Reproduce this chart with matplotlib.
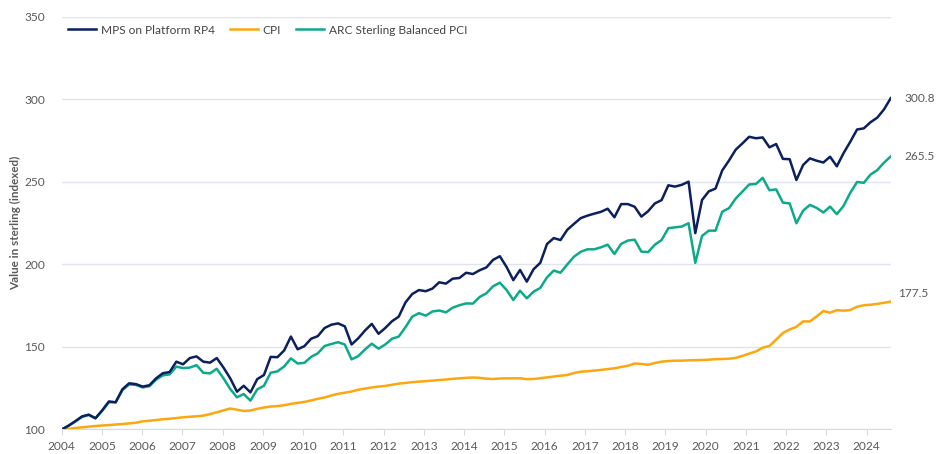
import numpy as np
import matplotlib.pyplot as plt

# readings taken every ~2 months, Jan 2004 to mid 2024
mps = [100, 102.3, 105.0, 107.9, 109.0, 106.8, 111.6, 117.0, 116.5, 124.4,
       128.0, 127.5, 126.0, 126.8, 131.0, 134.1, 134.8, 141.1, 139.5, 143.3,
       144.3, 141.1, 140.5, 143.3, 137.5, 131.0, 122.9, 126.5, 122.5, 130.5,
       133.0, 144.0, 143.8, 147.9, 156.3, 148.6, 150.5, 155.0, 156.6, 161.5,
       163.5, 164.3, 162.5, 151.5, 155.3, 160.0, 164.0, 158.0, 161.5, 165.6,
       168.4, 177.0, 182.1, 184.5, 183.8, 185.4, 189.2, 188.4, 191.4, 191.8,
       195.0, 194.2, 196.5, 198.2, 202.8, 205.0, 198.5, 190.5, 196.7, 189.6,
       197.1, 201.0, 212.4, 216.0, 214.8, 221.0, 224.6, 228.1, 229.6, 230.8,
       231.9, 233.8, 228.6, 236.6, 236.6, 235.0, 229.0, 232.3, 237.0, 239.0,
       248.0, 247.2, 248.3, 250.2, 219.0, 239.1, 244.3, 246.0, 257.0, 263.0,
       269.6, 273.4, 277.4, 276.5, 277.0, 271.0, 273.0, 264.0, 263.8, 251.2,
       260.3, 264.3, 262.9, 261.8, 265.3, 259.5, 267.5, 274.4, 281.8, 282.5,
       286.2, 289.0, 294.0, 300.8]

cpi = [100, 100.4, 100.9, 101.3, 101.7, 102.1, 102.4, 102.7, 103.0, 103.3,
       103.7, 104.1, 104.9, 105.3, 105.7, 106.2, 106.5, 106.9, 107.4, 107.7,
       108.0, 108.4, 109.3, 110.4, 111.6, 112.7, 112.0, 111.2, 111.5, 112.5,
       113.3, 113.9, 114.2, 114.7, 115.5, 116.1, 116.7, 117.6, 118.6, 119.4,
       120.6, 121.6, 122.3, 123.0, 124.1, 124.8, 125.5, 126.0, 126.4, 127.1,
       127.8, 128.2, 128.7, 129.0, 129.3, 129.6, 130.0, 130.3, 130.7, 131.0,
       131.3, 131.5, 131.3, 130.8, 130.6, 130.9, 131.0, 131.0, 131.0, 130.5,
       130.6, 131.1, 131.6, 132.1, 132.6, 133.0, 134.2, 135.0, 135.3, 135.7,
       136.1, 136.6, 137.1, 137.9, 138.6, 140.0, 139.7, 139.2, 140.3, 141.1,
       141.5, 141.7, 141.7, 141.9, 142.0, 142.1, 142.3, 142.6, 142.7, 142.9,
       143.4, 144.6, 146.0, 147.3, 149.6, 150.6, 154.5, 158.5, 160.6, 162.2,
       165.5, 165.5, 168.5, 171.8, 170.8, 172.3, 172.0, 172.4, 174.4, 175.3,
       175.6, 176.1, 176.8, 177.5]

arc = [100, 102.2, 104.8, 107.6, 108.8, 106.8, 111.3, 116.5, 116.5, 123.8,
       127.3, 127.0, 125.5, 126.2, 130.2, 132.8, 133.4, 138.1, 137.2, 137.5,
       139.0, 134.4, 134.0, 136.8, 131.0, 124.5, 119.5, 121.5, 117.5, 124.3,
       126.5, 134.4, 135.2, 138.2, 143.1, 140.0, 140.4, 144.0, 146.2, 150.6,
       151.8, 152.9, 151.5, 142.5, 144.5, 148.5, 152.0, 149.0, 151.5, 155.0,
       156.3, 162.0, 168.4, 170.5, 169.0, 171.5, 172.1, 171.0, 173.8, 175.3,
       176.4, 176.3, 180.3, 182.5, 186.8, 189.0, 184.5, 178.5, 184.1, 179.5,
       183.5, 185.8, 192.2, 196.3, 195.0, 200.0, 204.7, 207.7, 209.2, 209.2,
       210.4, 212.0, 206.4, 212.5, 214.5, 215.0, 207.8, 207.5, 212.0, 214.8,
       222.0, 222.5, 223.0, 225.0, 201.0, 217.3, 220.5, 220.5, 232.0, 234.1,
       240.0, 244.2, 248.5, 248.8, 252.5, 245.0, 245.5, 237.5, 237.0, 225.0,
       232.6, 236.1, 234.3, 231.5, 235.1, 230.5, 235.5, 243.5, 250.0, 249.5,
       254.5, 257.2, 261.7, 265.5]

dates = np.linspace(2004, 2024.6, len(mps))
years = list(range(2004, 2025))

navy = '#0c1f5e'
orange = '#fca70f'
teal = '#0ea98a'
grey = '#5a5a5a'

plt.rcParams['font.family'] = ['Lato', 'DejaVu Sans']

fig = plt.figure(figsize=(9.47, 4.54), dpi=100)
ax = fig.add_axes([0.0652, 0.054, 0.8754, 0.9086])

ax.plot(dates, mps, color=navy, lw=1.8, label='MPS on Platform RP4', zorder=4)
ax.plot(dates, cpi, color=orange, lw=1.8, label='CPI', zorder=3)
ax.plot(dates, arc, color=teal, lw=1.8, label='ARC Sterling Balanced PCI', zorder=3)

ax.set_xlim(2004, 2024.6)
ax.set_ylim(100, 350)
ax.set_yticks(range(100, 351, 50))
ax.set_xticks(years)
ax.set_xticklabels([str(y) for y in years])
ax.grid(axis='y', color='#dfe4ee', lw=1)
ax.set_axisbelow(True)
for s in ['left', 'right', 'top']:
    ax.spines[s].set_visible(False)
ax.spines['bottom'].set_color('#d5dbe6')
ax.tick_params(axis='y', length=0, pad=12, labelsize=8.6, labelcolor=grey)
ax.tick_params(axis='x', length=4, color='#d5dbe6', pad=4, labelsize=8.6, labelcolor=grey)

ax.set_ylabel('Value in sterling (indexed)', fontsize=8.4, fontweight='bold', color=grey)
ax.yaxis.set_label_coords(-0.049, 0.5)

ends = [(mps[-1], 0, 0, '300.8'), (arc[-1], 0, 0, '265.5'), (cpi[-1], -5, 6, '177.5')]
for val, dx, dy, txt in ends:
    ax.annotate(txt, xy=(dates[-1], val), xytext=(10 + dx, dy), textcoords='offset points',
                va='center', ha='left', fontsize=8.6, color=grey, annotation_clip=False)

ax.legend(loc='center left', bbox_to_anchor=(0.008, 0.968), ncol=3, frameon=False,
          fontsize=8.6, handlelength=2.3, handletextpad=0.4, columnspacing=1.3,
          borderaxespad=0, borderpad=0, labelcolor='#444444')

fig.savefig('out.png', dpi=100)
